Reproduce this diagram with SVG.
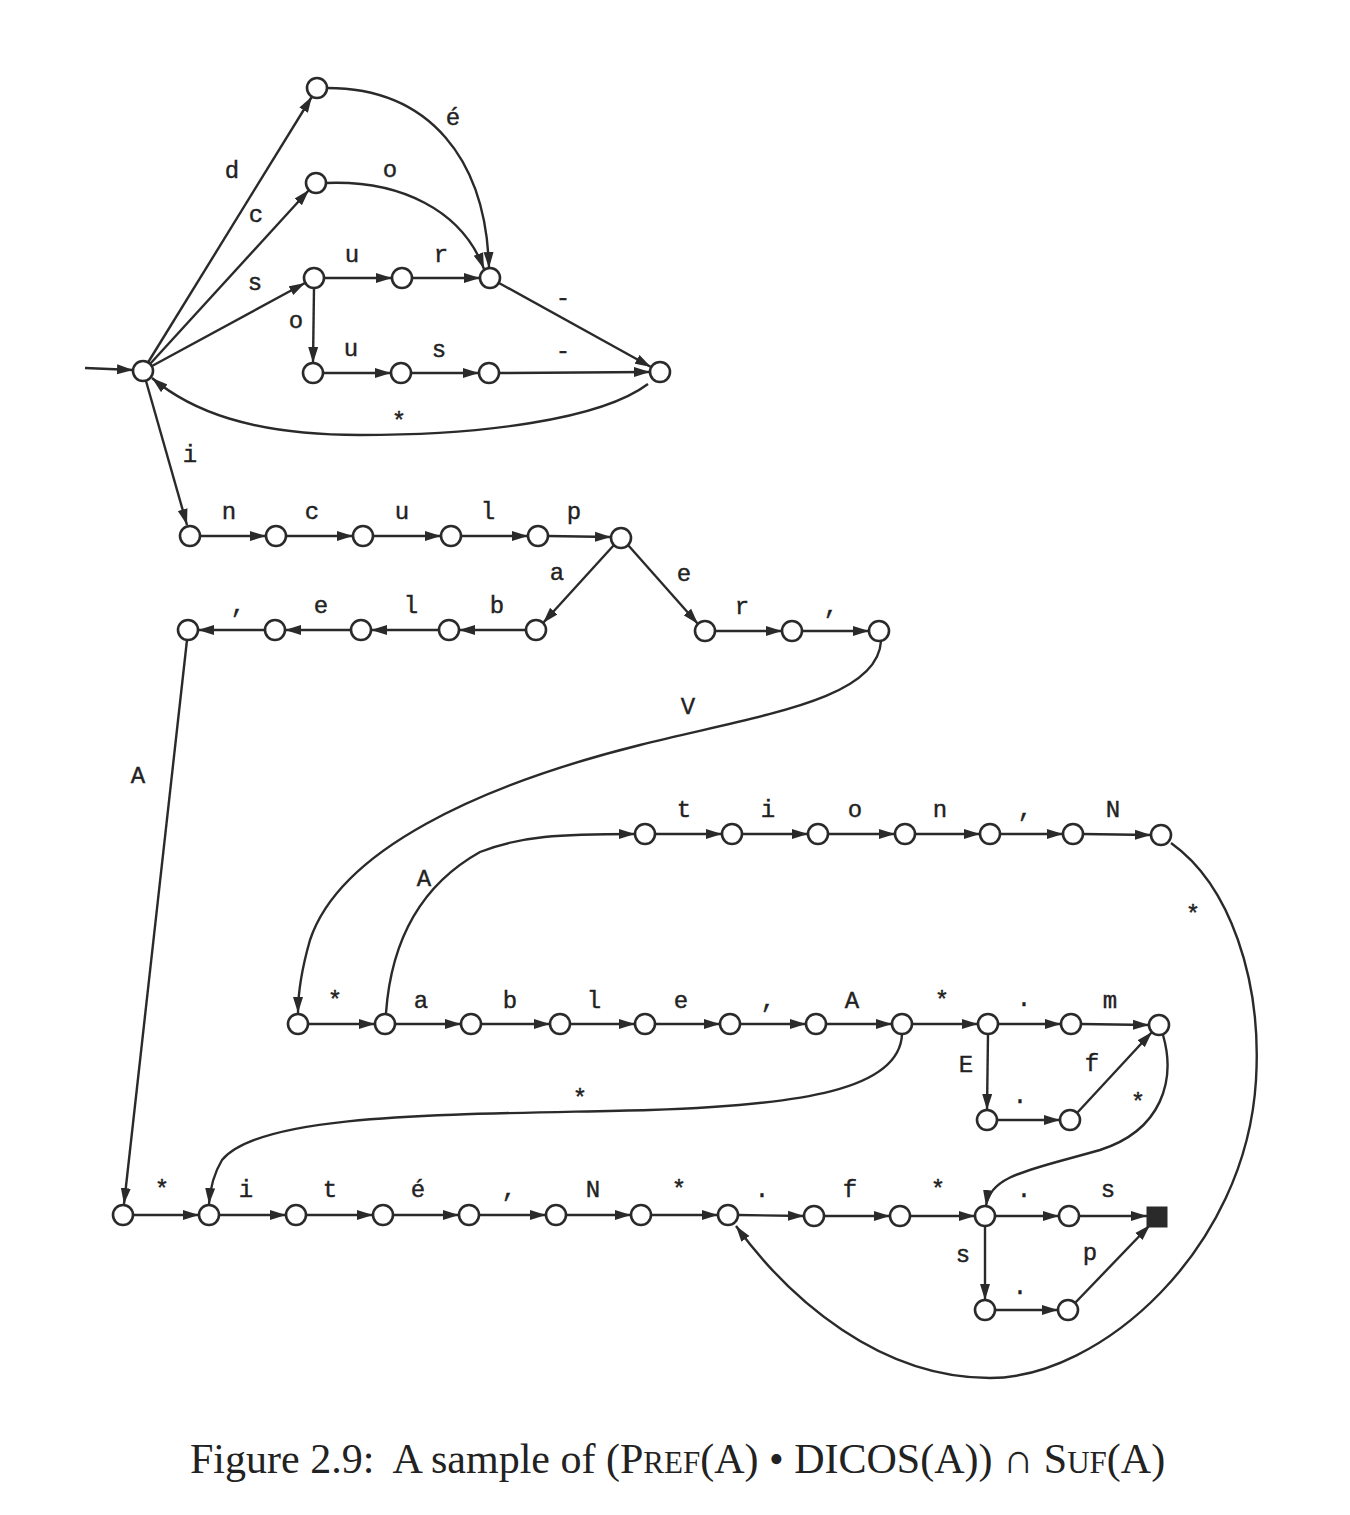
<svg xmlns="http://www.w3.org/2000/svg" width="1350" height="1515" viewBox="0 0 1350 1515">
<style>
.n{fill:#fff;stroke:#2a2a2a;stroke-width:2.6}
.f{fill:#2a2a2a;stroke:#2a2a2a;stroke-width:1}
.e{fill:none;stroke:#2a2a2a;stroke-width:2.4;marker-end:url(#ah)}
.l{font-family:"Liberation Mono","DejaVu Sans Mono",monospace;font-size:24px;fill:#222;text-anchor:middle;stroke:#222;stroke-width:0.4}
.cap{font-family:"Liberation Serif","Times New Roman",serif;font-size:42px;fill:#222}
</style>
<defs>
<marker id="ah" markerWidth="18" markerHeight="11" refX="16" refY="5.5" orient="auto" markerUnits="userSpaceOnUse"><path d="M0,0.5 L16,5.5 L0,10.5 z" fill="#2a2a2a"/></marker>
</defs>
<rect width="1350" height="1515" fill="#fff"/>
<g id="connectors">
<path class="e" d="M85,368 L133,370"/>
<path class="e" d="M148,362.5 L312,96.5"/>
<path class="e" d="M150,364 L309,190"/>
<path class="e" d="M152,366 L305,283"/>
<path class="e" d="M146,381 L187,525"/>
<path class="e" d="M327,88 C430,88 486,160 489,268"/>
<path class="e" d="M326,183 C400,180 462,210 484,269"/>
<path class="e" d="M324,278 L392,278"/>
<path class="e" d="M412,278 L480,278"/>
<path class="e" d="M314,288 L313,363"/>
<path class="e" d="M323,373 L391,373"/>
<path class="e" d="M411,373 L479,373"/>
<path class="e" d="M499,283 L651,367"/>
<path class="e" d="M499,373 L650,372"/>
<path class="e" d="M648,384 C600,420 480,435 360,435 C250,435 190,410 152,378"/>
<path class="e" d="M200,536 L266,536"/>
<path class="e" d="M286,536 L353,536"/>
<path class="e" d="M373,536 L441,536"/>
<path class="e" d="M461,536 L528,536"/>
<path class="e" d="M548,536 L611,537"/>
<path class="e" d="M614,545 L543,623"/>
<path class="e" d="M628,545 L698,624"/>
<path class="e" d="M526,630 L459,630"/>
<path class="e" d="M439,630 L371,630"/>
<path class="e" d="M351,630 L285,630"/>
<path class="e" d="M265,630 L198,630"/>
<path class="e" d="M715,631 L782,631"/>
<path class="e" d="M802,631 L869,631"/>
<path class="e" d="M187,640 L124,1204"/>
<path class="e" d="M881,641 C878,700 760,715 640,745 C480,785 340,850 310,940 C300,975 298,995 298,1013"/>
<path class="e" d="M386,1013 C392,930 430,880 480,852 C520,836 560,834 635,834"/>
<path class="e" d="M655,834 L722,834"/>
<path class="e" d="M742,834 L808,834"/>
<path class="e" d="M828,834 L895,834"/>
<path class="e" d="M915,834 L980,834"/>
<path class="e" d="M1000,834 L1063,834"/>
<path class="e" d="M1083,834 L1151,835"/>
<path class="e" d="M1171,843 C1230,885 1262,980 1256,1080 C1246,1250 1100,1378 990,1378 C880,1378 790,1300 736,1226"/>
<path class="e" d="M308,1024 L375,1024"/>
<path class="e" d="M395,1024 L461,1024"/>
<path class="e" d="M481,1024 L550,1024"/>
<path class="e" d="M570,1024 L635,1024"/>
<path class="e" d="M655,1024 L720,1024"/>
<path class="e" d="M740,1024 L806,1024"/>
<path class="e" d="M826,1024 L892,1024"/>
<path class="e" d="M912,1024 L978,1024"/>
<path class="e" d="M998,1024 L1061,1024"/>
<path class="e" d="M1081,1024 L1149,1025"/>
<path class="e" d="M988,1034 L987,1110"/>
<path class="e" d="M997,1120 L1060,1120"/>
<path class="e" d="M1077,1113 L1152,1032"/>
<path class="e" d="M902,1034 C900,1090 800,1105 650,1110 C450,1115 262,1112 222,1160 C213,1175 210,1190 209,1204"/>
<path class="e" d="M1163,1035 C1176,1080 1162,1130 1100,1150 C1030,1170 990,1175 986,1206"/>
<path class="e" d="M133,1215 L199,1215"/>
<path class="e" d="M219,1215 L286,1215"/>
<path class="e" d="M306,1215 L373,1215"/>
<path class="e" d="M393,1215 L459,1215"/>
<path class="e" d="M479,1215 L546,1215"/>
<path class="e" d="M566,1215 L631,1215"/>
<path class="e" d="M651,1215 L718,1215"/>
<path class="e" d="M738,1215 L804,1216"/>
<path class="e" d="M824,1216 L890,1216"/>
<path class="e" d="M910,1216 L975,1216"/>
<path class="e" d="M995,1216 L1059,1216"/>
<path class="e" d="M1079,1216 L1147,1216"/>
<path class="e" d="M985,1226 L985,1300"/>
<path class="e" d="M995,1310 L1058,1310"/>
<path class="e" d="M1075,1303 L1150,1225"/>
</g>
<g id="labels">
<text class="l" x="232" y="178">d</text>
<text class="l" x="256" y="222">c</text>
<text class="l" x="255" y="290">s</text>
<text class="l" x="453" y="125">é</text>
<text class="l" x="390" y="177">o</text>
<text class="l" x="352" y="262">u</text>
<text class="l" x="441" y="262">r</text>
<text class="l" x="296" y="328">o</text>
<text class="l" x="351" y="356">u</text>
<text class="l" x="439" y="357">s</text>
<text class="l" x="563" y="305">-</text>
<text class="l" x="563" y="358">-</text>
<text class="l" x="399" y="429">*</text>
<text class="l" x="190" y="462">i</text>
<text class="l" x="229" y="519">n</text>
<text class="l" x="312" y="519">c</text>
<text class="l" x="402" y="519">u</text>
<text class="l" x="488" y="519">l</text>
<text class="l" x="574" y="519">p</text>
<text class="l" x="557" y="580">a</text>
<text class="l" x="684" y="581">e</text>
<text class="l" x="497" y="613">b</text>
<text class="l" x="411" y="613">l</text>
<text class="l" x="321" y="613">e</text>
<text class="l" x="238" y="613">,</text>
<text class="l" x="742" y="614">r</text>
<text class="l" x="831" y="614">,</text>
<text class="l" x="688" y="714">V</text>
<text class="l" x="138" y="783">A</text>
<text class="l" x="424" y="886">A</text>
<text class="l" x="684" y="817">t</text>
<text class="l" x="768" y="817">i</text>
<text class="l" x="855" y="817">o</text>
<text class="l" x="940" y="817">n</text>
<text class="l" x="1025" y="817">,</text>
<text class="l" x="1113" y="817">N</text>
<text class="l" x="1193" y="922">*</text>
<text class="l" x="335" y="1008">*</text>
<text class="l" x="421" y="1008">a</text>
<text class="l" x="510" y="1008">b</text>
<text class="l" x="594" y="1008">l</text>
<text class="l" x="681" y="1008">e</text>
<text class="l" x="768" y="1008">,</text>
<text class="l" x="852" y="1008">A</text>
<text class="l" x="942" y="1008">*</text>
<text class="l" x="1024" y="1006">.</text>
<text class="l" x="1110" y="1008">m</text>
<text class="l" x="966" y="1072">E</text>
<text class="l" x="1020" y="1103">.</text>
<text class="l" x="1092" y="1071">f</text>
<text class="l" x="1138" y="1110">*</text>
<text class="l" x="580" y="1106">*</text>
<text class="l" x="162" y="1197">*</text>
<text class="l" x="246" y="1197">i</text>
<text class="l" x="330" y="1197">t</text>
<text class="l" x="418" y="1197">é</text>
<text class="l" x="509" y="1197">,</text>
<text class="l" x="593" y="1197">N</text>
<text class="l" x="679" y="1197">*</text>
<text class="l" x="762" y="1197">.</text>
<text class="l" x="850" y="1197">f</text>
<text class="l" x="938" y="1197">*</text>
<text class="l" x="1024" y="1197">.</text>
<text class="l" x="1108" y="1197">s</text>
<text class="l" x="963" y="1262">s</text>
<text class="l" x="1020" y="1294">.</text>
<text class="l" x="1090" y="1260">p</text>
</g>
<g id="nodes">
<g id="q0"><circle class="n" cx="143" cy="371" r="10"/></g>
<g id="q_d"><circle class="n" cx="317" cy="88" r="10"/></g>
<g id="q_c"><circle class="n" cx="316" cy="183" r="10"/></g>
<g id="q_s"><circle class="n" cx="314" cy="278" r="10"/></g>
<g id="q_su"><circle class="n" cx="402" cy="278" r="10"/></g>
<g id="q_sur"><circle class="n" cx="490" cy="278" r="10"/></g>
<g id="q_so"><circle class="n" cx="313" cy="373" r="10"/></g>
<g id="q_sou"><circle class="n" cx="401" cy="373" r="10"/></g>
<g id="q_sous"><circle class="n" cx="489" cy="373" r="10"/></g>
<g id="q_hyph"><circle class="n" cx="660" cy="372" r="10"/></g>
<g id="q_i"><circle class="n" cx="190" cy="536" r="10"/></g>
<g id="q_in"><circle class="n" cx="276" cy="536" r="10"/></g>
<g id="q_inc"><circle class="n" cx="363" cy="536" r="10"/></g>
<g id="q_incu"><circle class="n" cx="451" cy="536" r="10"/></g>
<g id="q_incul"><circle class="n" cx="538" cy="536" r="10"/></g>
<g id="q_inculp"><circle class="n" cx="621" cy="538" r="10"/></g>
<g id="q_a"><circle class="n" cx="536" cy="630" r="10"/></g>
<g id="q_ab"><circle class="n" cx="449" cy="630" r="10"/></g>
<g id="q_abl"><circle class="n" cx="361" cy="630" r="10"/></g>
<g id="q_able"><circle class="n" cx="275" cy="630" r="10"/></g>
<g id="q_able_c"><circle class="n" cx="188" cy="630" r="10"/></g>
<g id="q_e"><circle class="n" cx="705" cy="631" r="10"/></g>
<g id="q_er"><circle class="n" cx="792" cy="631" r="10"/></g>
<g id="q_er_c"><circle class="n" cx="879" cy="631" r="10"/></g>
<g id="q_t0"><circle class="n" cx="645" cy="834" r="10"/></g>
<g id="q_t1"><circle class="n" cx="732" cy="834" r="10"/></g>
<g id="q_t2"><circle class="n" cx="818" cy="834" r="10"/></g>
<g id="q_t3"><circle class="n" cx="905" cy="834" r="10"/></g>
<g id="q_t4"><circle class="n" cx="990" cy="834" r="10"/></g>
<g id="q_t5"><circle class="n" cx="1073" cy="834" r="10"/></g>
<g id="q_t6"><circle class="n" cx="1161" cy="835" r="10"/></g>
<g id="q_b0"><circle class="n" cx="298" cy="1024" r="10"/></g>
<g id="q_b1"><circle class="n" cx="385" cy="1024" r="10"/></g>
<g id="q_b2"><circle class="n" cx="471" cy="1024" r="10"/></g>
<g id="q_b3"><circle class="n" cx="560" cy="1024" r="10"/></g>
<g id="q_b4"><circle class="n" cx="645" cy="1024" r="10"/></g>
<g id="q_b5"><circle class="n" cx="730" cy="1024" r="10"/></g>
<g id="q_b6"><circle class="n" cx="816" cy="1024" r="10"/></g>
<g id="q_b7"><circle class="n" cx="902" cy="1024" r="10"/></g>
<g id="q_b8"><circle class="n" cx="988" cy="1024" r="10"/></g>
<g id="q_b9"><circle class="n" cx="1071" cy="1024" r="10"/></g>
<g id="q_b10"><circle class="n" cx="1159" cy="1025" r="10"/></g>
<g id="q_bE1"><circle class="n" cx="987" cy="1120" r="10"/></g>
<g id="q_bE2"><circle class="n" cx="1070" cy="1120" r="10"/></g>
<g id="q_c0"><circle class="n" cx="123" cy="1215" r="10"/></g>
<g id="q_c1"><circle class="n" cx="209" cy="1215" r="10"/></g>
<g id="q_c2"><circle class="n" cx="296" cy="1215" r="10"/></g>
<g id="q_c3"><circle class="n" cx="383" cy="1215" r="10"/></g>
<g id="q_c4"><circle class="n" cx="469" cy="1215" r="10"/></g>
<g id="q_c5"><circle class="n" cx="556" cy="1215" r="10"/></g>
<g id="q_c6"><circle class="n" cx="641" cy="1215" r="10"/></g>
<g id="q_c7"><circle class="n" cx="728" cy="1215" r="10"/></g>
<g id="q_c8"><circle class="n" cx="814" cy="1216" r="10"/></g>
<g id="q_c9"><circle class="n" cx="900" cy="1216" r="10"/></g>
<g id="q_c10"><circle class="n" cx="985" cy="1216" r="10"/></g>
<g id="q_c11"><circle class="n" cx="1069" cy="1216" r="10"/></g>
<g id="q_cs1"><circle class="n" cx="985" cy="1310" r="10"/></g>
<g id="q_cs2"><circle class="n" cx="1068" cy="1310" r="10"/></g>
<g id="q_final"><rect class="f" x="1147" y="1207" width="20" height="20"/></g>
</g>
<text class="cap" x="190" y="1473">Figure 2.9: <tspan dx="10">A sample of (P</tspan><tspan font-size="31">REF</tspan>(A) • DICOS(A)) ∩ S<tspan font-size="31">UF</tspan>(A)</text>
</svg>
